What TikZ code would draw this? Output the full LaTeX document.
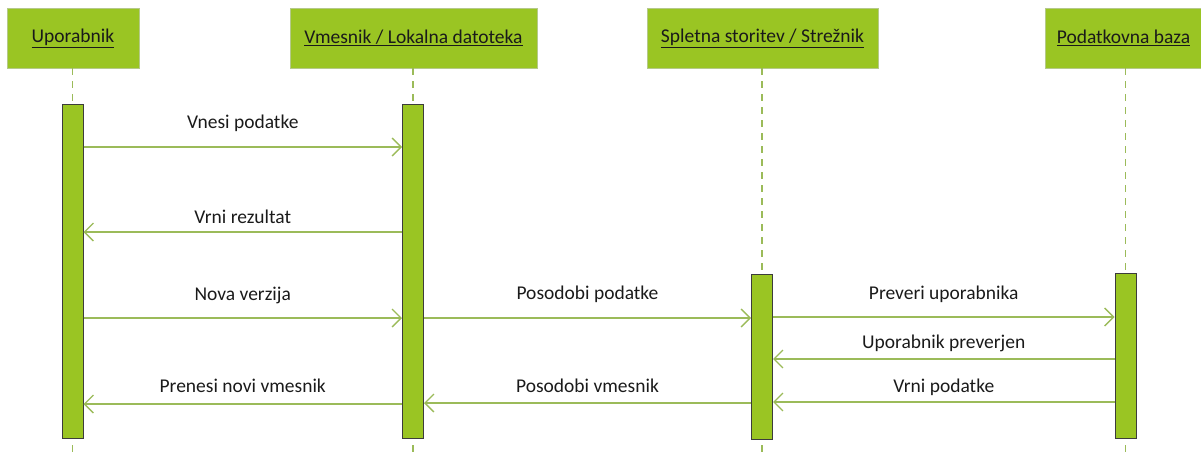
\documentclass[tikz,border=0pt]{standalone}
\usepackage{fontspec}
\setmainfont{Carlito}
\usetikzlibrary{arrows.meta}
\definecolor{actfill}{HTML}{9AC523}
\definecolor{actborder}{HTML}{3C3C3C}
\definecolor{hdrborder}{HTML}{B5C98A}
\definecolor{msgline}{HTML}{9BBB59}
\definecolor{txt}{HTML}{1A1A1A}
\begin{document}
\begin{tikzpicture}[x=1pt,y=-1pt,
  header/.style={draw=hdrborder,fill=actfill,line width=0.8pt,inner sep=0pt,text=txt,
    minimum height=60pt,font=\fontsize{19.5}{22}\selectfont},
  actbar/.style={draw=actborder,fill=actfill,line width=1pt,inner sep=0pt,minimum width=21pt},
  lifeline/.style={draw=msgline,line width=1.3pt,dash pattern=on 7pt off 6pt},
  msg/.style={draw=msgline,line width=1.3pt,-{Straight Barb[length=9pt,width=18pt,line width=1.3pt]}},
  lbl/.style={font=\fontsize{19.5}{22}\selectfont,inner sep=0pt,text=txt,anchor=base}]
\useasboundingbox (0,0) rectangle (1201,453);

% participants
\node[header,minimum width=132pt] (hU) at (73,38) {\underline{Uporabnik}};
\node[header,minimum width=247pt] (hV) at (413.5,38) {\underline{Vmesnik / Lokalna datoteka}};
\node[header,minimum width=231pt] (hS) at (762.5,38) {\underline{Spletna storitev / Strežnik}};
\node[header,minimum width=156pt] (hP) at (1123.5,38) {\underline{Podatkovna baza}};

% lifeline ends
\coordinate (eU) at (72.5,453);
\coordinate (eV) at (413,453);
\coordinate (eS) at (762,453);
\coordinate (eP) at (1125.5,453);

% lifelines
\draw[lifeline] (hU.south -| eU) -- (eU);
\draw[lifeline] (hV.south -| eV) -- (eV);
\draw[lifeline] (hS.south -| eS) -- (eS);
\draw[lifeline] (hP.south -| eP) -- (eP);

% activation bars
\node[actbar,minimum height=334pt] (aU) at (72.5,271) {};
\node[actbar,minimum height=334pt] (aV) at (413,271) {};
\node[actbar,minimum height=165pt] (aS) at (762,356.5) {};
\node[actbar,minimum height=165pt] (aP) at (1125.5,355.5) {};

% messages
\draw[msg] (aU.east |- 0,147) -- (aV.west |- 0,147)
  node[lbl,midway,yshift=19pt] {Vnesi podatke};
\draw[msg] (aV.west |- 0,232) -- (aU.east |- 0,232)
  node[lbl,midway,yshift=9pt] {Vrni rezultat};
\draw[msg] (aU.east |- 0,318) -- (aV.west |- 0,318)
  node[lbl,midway,yshift=18pt] {Nova verzija};
\draw[msg] (aV.east |- 0,318) -- (aS.west |- 0,318)
  node[lbl,midway,yshift=19pt] {Posodobi podatke};
\draw[msg] (aS.east |- 0,317) -- (aP.west |- 0,317)
  node[lbl,midway,yshift=18pt] {Preveri uporabnika};
\draw[msg] (aP.west |- 0,359) -- (aS.east |- 0,359)
  node[lbl,midway,yshift=11pt] {Uporabnik preverjen};
\draw[msg] (aP.west |- 0,402) -- (aS.east |- 0,402)
  node[lbl,midway,yshift=10pt] {Vrni podatke};
\draw[msg] (aS.west |- 0,403) -- (aV.east |- 0,403)
  node[lbl,midway,yshift=11pt] {Posodobi vmesnik};
\draw[msg] (aV.west |- 0,404) -- (aU.east |- 0,404)
  node[lbl,midway,yshift=12pt] {Prenesi novi vmesnik};
\end{tikzpicture}
\end{document}
